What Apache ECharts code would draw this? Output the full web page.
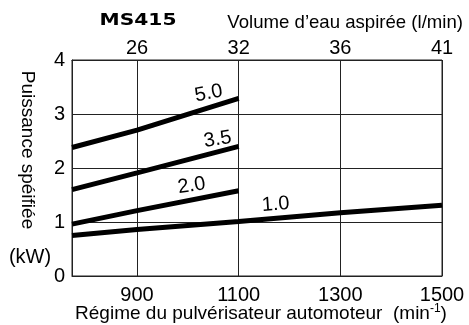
<!DOCTYPE html>
<html>
<head>
<meta charset="utf-8">
<script src="https://cdn.jsdelivr.net/npm/echarts@6/dist/echarts.min.js"></script>
<style>
html, body { margin: 0; padding: 0; background: #fff; }
#chart { width: 469px; height: 325px; }
</style>
</head>
<body>
<div id="chart"></div>
<script>
// Engine speed (min-1) at which the power readings are taken
const rpmPoints = [772, 900, 1100, 1300, 1500];
// Bottom axis ticks (engine speed) and matching top axis ticks (water intake, l/min)
const rpmTicks = [900, 1100, 1300, 1500];
const waterTicks = ['26', '32', '36', '41'];
// Required power (kW) per nozzle size
const nozzleLabels = ['5.0', '3.5', '2.0', '1.0'];
const kw50 = [2.38, 2.70, 3.29];
const kw35 = [1.60, 1.91, 2.40];
const kw20 = [0.96, 1.21, 1.58];
const kw10 = [0.75, 0.86, 1.01, 1.17, 1.31];

const FONT = 'Liberation Sans, Arial, Helvetica, sans-serif';
const INK = '#000';
const GRIDC = '#222';

const seriesValues = [kw50, kw35, kw20, kw10];
// label placement: which point of the curve it hangs from, pixel offset, tilt (deg)
const labelPlacement = [
  { idx: 2, dx: -30, dy: -5, tilt: 11 },
  { idx: 2, dx: -21, dy: -7, tilt: 9 },
  { idx: 2, dx: -47, dy: -5, tilt: 9 },
  { idx: 2, dx: 37, dy: -17, tilt: 4 }
];

const chart = echarts.init(document.getElementById('chart'), null, { renderer: 'canvas' });

const xMin = rpmPoints[0];
const xMax = rpmPoints[rpmPoints.length - 1];

const option = {
  animation: false,
  backgroundColor: '#fff',
  grid: {
    left: 72, right: 27, top: 60, bottom: 49,
    show: true, borderColor: GRIDC, borderWidth: 1, backgroundColor: 'transparent'
  },
  xAxis: [
    {
      type: 'value', position: 'bottom', min: xMin, max: xMax,
      axisLine: { show: true, lineStyle: { color: GRIDC, width: 1 } },
      axisTick: { show: false, customValues: rpmTicks },
      axisLabel: {
        customValues: rpmTicks, fontSize: 20, color: INK, fontFamily: FONT, margin: 9,
        formatter: v => String(v)
      },
      splitLine: { show: true, lineStyle: { color: GRIDC, width: 1 } }
    },
    {
      type: 'value', position: 'top', min: xMin, max: xMax,
      axisLine: { show: true, lineStyle: { color: GRIDC, width: 1 } },
      axisTick: { show: false, customValues: rpmTicks },
      axisLabel: {
        customValues: rpmTicks, fontSize: 20, color: INK, fontFamily: FONT, margin: 2,
        formatter: v => waterTicks[rpmTicks.indexOf(v)]
      },
      splitLine: { show: false }
    }
  ],
  yAxis: {
    type: 'value', min: 0, max: 4, interval: 1,
    axisLine: { show: true, lineStyle: { color: GRIDC, width: 1 } },
    axisTick: { show: false },
    axisLabel: { fontSize: 20, color: INK, fontFamily: FONT, margin: 7 },
    splitLine: { show: true, lineStyle: { color: GRIDC, width: 1 } }
  },
  series: seriesValues.map((vals, s) => ({
    name: nozzleLabels[s],
    type: 'line',
    xAxisIndex: 0,
    yAxisIndex: 0,
    symbol: 'none',
    lineStyle: { color: INK, width: 5, cap: 'butt' },
    data: vals.map((v, i) => [rpmPoints[i], v])
  }))
};

chart.setOption(option);

// Text drawn in pixel space: axis titles, model name and curve labels
const textStyle = (extra) => Object.assign({
  fill: INK, fontFamily: FONT, fontSize: 19,
  align: 'center', verticalAlign: 'middle',
  textAlign: 'center', textVerticalAlign: 'middle'
}, extra);

const graphics = [
  {
    type: 'text', x: 138, y: 21, scaleX: 1.35,
    style: textStyle({ text: 'MS415', fontFamily: 'DejaVu Sans, sans-serif', fontWeight: 'bold', fontSize: 15 })
  },
  {
    type: 'text', x: 463, y: 23,
    style: textStyle({ text: 'Volume d\u2019eau aspirée (l/min)', fontSize: 18.6, align: 'right', textAlign: 'right' })
  },
  {
    type: 'text', x: 27, y: 150, rotation: -Math.PI / 2,
    style: textStyle({ text: 'Puissance spéifiée' })
  },
  {
    type: 'text', x: 30, y: 257,
    style: textStyle({ text: '(kW)', fontSize: 20 })
  },
  {
    type: 'text', x: 261, y: 314,
    style: textStyle({
      text: '{m|Régime du pulvérisateur automoteur  (min}{s|-1}{m|)}',
      rich: {
        m: { fontSize: 19, fontFamily: FONT, fill: INK, lineHeight: 22, verticalAlign: 'middle' },
        s: { fontSize: 12, fontFamily: FONT, fill: INK, lineHeight: 12, verticalAlign: 'top' }
      }
    })
  }
];

labelPlacement.forEach((p, s) => {
  const vals = seriesValues[s];
  const px = chart.convertToPixel({ xAxisIndex: 0, yAxisIndex: 0 }, [rpmPoints[p.idx], vals[p.idx]]);
  graphics.push({
    type: 'text', x: px[0] + p.dx, y: px[1] + p.dy,
    rotation: p.tilt * Math.PI / 180,
    style: textStyle({ text: nozzleLabels[s], fontSize: 20 })
  });
});

chart.setOption({ graphic: { elements: graphics } });
</script>
</body>
</html>
